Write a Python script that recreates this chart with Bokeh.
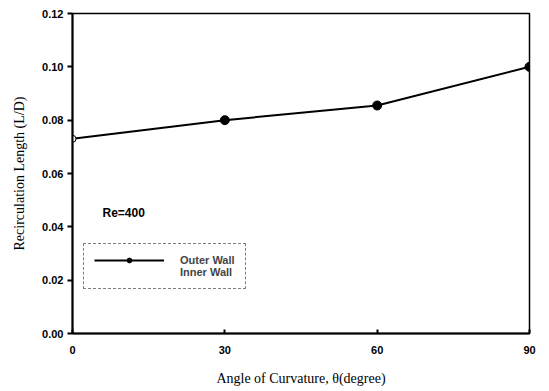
from bokeh.plotting import figure
from bokeh.models import Range1d, FixedTicker, Legend, LegendItem, Label, CustomJSTickFormatter
from bokeh.embed import file_html
from bokeh.resources import INLINE

angles = [0, 30, 60, 90]
outer_wall = [0.073, 0.080, 0.0855, 0.100]
x_ticks = [0, 30, 60, 90]
y_ticks = [0.00, 0.02, 0.04, 0.06, 0.08, 0.10, 0.12]

p = figure(width=541, height=388, output_backend="svg", toolbar_location=None,
           x_range=Range1d(0, 90), y_range=Range1d(0, 0.12),
           min_border_left=72, min_border_right=12, min_border_top=13, min_border_bottom=55)
p.grid.visible = False
p.outline_line_color = "black"
p.outline_line_width = 1.5
p.background_fill_color = "white"

p.xaxis.ticker = FixedTicker(ticks=x_ticks)
p.yaxis.ticker = FixedTicker(ticks=y_ticks)
p.yaxis.formatter = CustomJSTickFormatter(code="return tick.toFixed(2);")

for ax in (p.xaxis, p.yaxis):
    ax.axis_line_width = 2
    ax.major_tick_line_width = 2
    ax.minor_tick_line_color = None
    ax.major_label_text_font = "Liberation Sans"
    ax.major_label_text_font_style = "bold"
    ax.major_label_text_font_size = "11px"
    ax.major_label_text_color = "black"
    ax.axis_label_text_font = "Liberation Serif"
    ax.axis_label_text_font_style = "normal"
    ax.axis_label_text_font_size = "14px"
    ax.axis_label_text_color = "black"
p.xaxis.major_tick_in = 4
p.xaxis.major_tick_out = 0
p.yaxis.major_tick_in = 0
p.yaxis.major_tick_out = 5
p.xaxis.major_label_standoff = 12
p.yaxis.major_label_standoff = 4
p.xaxis.axis_label = "Angle of Curvature, \u03b8(degree)"
p.yaxis.axis_label = "Recirculation Length (L/D)"
p.xaxis.axis_label_standoff = 14
p.yaxis.axis_label_standoff = 12

line = p.line(angles, outer_wall, line_color="black", line_width=2)
pts = p.scatter(angles[1:], outer_wall[1:], size=9, marker="circle",
                fill_color="black", line_color="black")
p.scatter(angles[:1], outer_wall[:1], size=7, marker="circle",
          fill_color="white", line_color="black", line_width=1)
dummy = p.line([0], [0], line_alpha=0)

p.add_layout(Label(x=30, y=114, x_units="screen", y_units="screen", text="Re=400",
                   text_font="Liberation Sans", text_font_style="bold",
                   text_font_size="12px", text_color="black"))

legend = Legend(items=[LegendItem(label="Outer Wall", renderers=[line, pts]),
                       LegendItem(label="Inner Wall", renderers=[dummy])],
                location=(11, 44), glyph_width=70, glyph_height=12,
                label_height=12, label_standoff=16, spacing=0, padding=10,
                label_text_font="Liberation Sans", label_text_font_style="bold",
                label_text_font_size="11px", border_line_color="black",
                border_line_dash="2 2", border_line_width=1,
                background_fill_alpha=1)
p.add_layout(legend, "center")

open("out.html", "w").write(file_html(p, INLINE))
